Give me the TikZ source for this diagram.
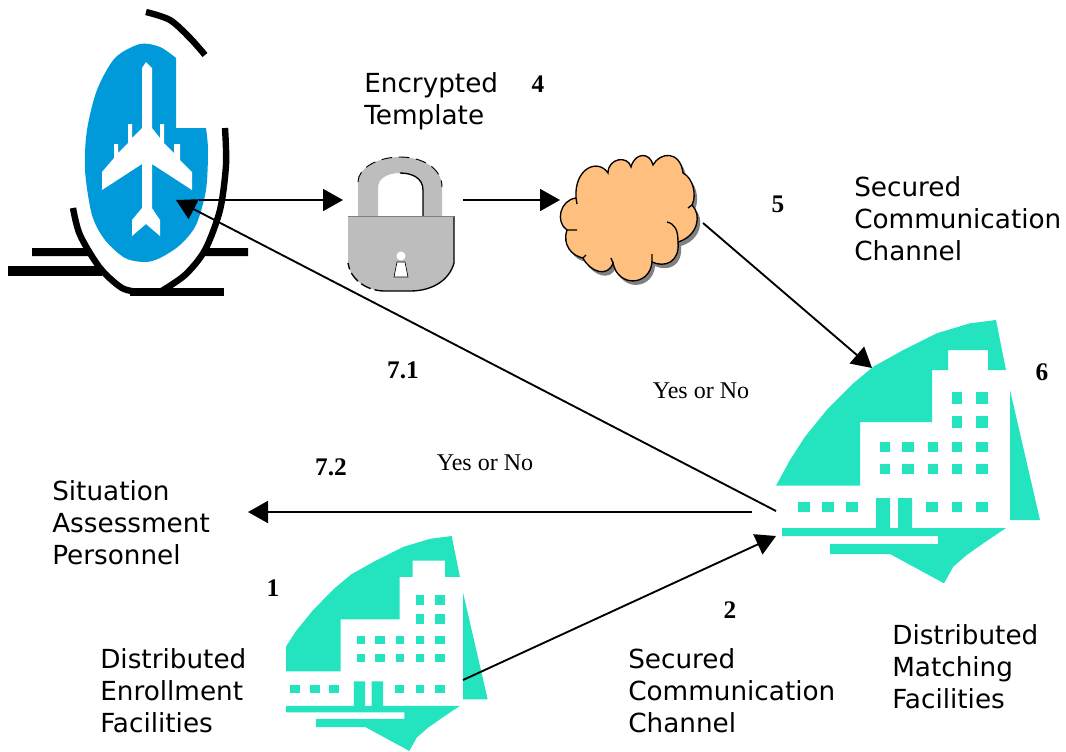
\documentclass[tikz,border=0pt]{standalone}
\usepackage{fontspec}
\setmainfont{Liberation Serif}
\newfontfamily\captionfont{DejaVu Sans}
\usetikzlibrary{arrows.meta}

\definecolor{planeblue}{HTML}{0099D9}
\definecolor{facilityteal}{HTML}{24E4C0}
\definecolor{cloudorange}{HTML}{FFBF7F}
\definecolor{lockgray}{HTML}{BDBDBD}
\definecolor{shadowgray}{HTML}{808080}

\tikzset{
  link/.style={-{Triangle[length=15pt,width=16.5pt]}, line width=1.4pt},
  caption/.style={font=\captionfont\fontsize{19.7}{24}\selectfont, align=left, anchor=north west, inner sep=0pt},
  number/.style={font=\fontsize{19}{20}\selectfont\bfseries, inner sep=0pt},
  answer/.style={font=\fontsize{18}{20}\selectfont, inner sep=0pt},
  sketch/.style={line width=4.8pt, line cap=butt}
}

% one facility icon, in the size of the large one
\newcommand{\facilityicon}{%
  \fill[facilityteal] (26,175.7) -- (40,150) -- (55,126.7) -- (76.7,100) -- (103.3,73.3) -- (123.3,56.7)
    -- (153.3,40) -- (186.7,23.3) -- (220,13.3) -- (246,10) -- (256,60) -- (238,60) -- (238,40) -- (198,40)
    -- (198,60) -- (182,60) -- (182,112) -- (110,112) -- (110,175.7) -- cycle;
  \fill[facilityteal] (260,80) -- (290,210) -- (260,210) -- cycle;
  \fill[facilityteal] (32,218) -- (126,218) -- (126,188) -- (140,188) -- (140,218) -- (148,218) -- (148,188)
    -- (162,188) -- (162,218) -- (256,218) -- (233.3,233.3) -- (216.7,245) -- (203.3,256.7) -- (194,273.3)
    -- (140,244) -- (80,244) -- (80,234) -- (188,234) -- (188,226) -- (32,226) -- cycle;
  \foreach \wx/\ww/\wy/\wh in {202/10/82/12, 226/12/82/12, 202/10/106/12, 226/12/106/12,
      130/10/132/10, 152/12/132/10, 178/10/132/10, 202/10/132/10, 226/12/132/10,
      130/10/154/10, 152/12/154/10, 178/10/154/10, 202/10/154/10, 226/12/154/10,
      48/12/192/10, 72/12/192/10, 96/12/192/10, 176/12/192/10, 202/10/192/10, 226/12/192/10}
    \fill[facilityteal] (\wx,\wy) rectangle +(\ww,\wh);
}

\newcommand{\cloudoutline}{%
  (576,198) .. controls (574,168) and (598,158) .. (608,173)
  .. controls (608,158) and (628,155) .. (631,167)
  .. controls (635,152) and (650,152) .. (653,165)
  .. controls (660,152) and (680,150) .. (683,173)
  .. controls (693,178) and (697,195) .. (692,205)
  .. controls (702,215) and (698,236) .. (678,242)
  .. controls (680,262) and (665,268) .. (652,262)
  .. controls (650,286) and (618,288) .. (613,263)
  .. controls (608,278) and (590,272) .. (583,258)
  .. controls (572,256) and (562,245) .. (567,230)
  .. controls (555,222) and (560,200) .. (576,198) -- cycle
}

\begin{document}
\begin{tikzpicture}[x=0.75pt, y=-0.75pt]
    \useasboundingbox (0,0) rectangle (1066,751);

    % Define connector ends
    \coordinate (planeTip) at (176,200);
    \coordinate (planeOut) at (199,200);
    \coordinate (lockIn) at (343,200);
    \coordinate (lockOut) at (463,200);
    \coordinate (cloudIn) at (560,200);
    \coordinate (cloudOut) at (703,223);
    \coordinate (matchIn) at (872,368);
    \coordinate (matchOut) at (752,512);
    \coordinate (matchBack) at (776,511);
    \coordinate (matchLow) at (776,536);
    \coordinate (staffIn) at (248,512);
    \coordinate (enrollOut) at (463,680);

    % Aircraft
    \fill[black] (32,248) rectangle (88,256) (204,248) rectangle (248,256);
    \fill[black] (8,266) rectangle (102,276);
    \fill[black] (130,288) rectangle (224,296);
    \draw[sketch] plot[smooth] coordinates {(146,12) (170,20) (190,38) (205,55)};
    \draw[sketch] plot[smooth] coordinates {(225,128) (226,165) (220,210) (205,250) (185,275) (160,292)};
    \draw[sketch] plot[smooth] coordinates {(73,208) (80,235) (100,268) (122,288) (140,292)};
    \fill[planeblue] (176,128) -- (206,128) -- plot[smooth] coordinates {(206,128) (208,150) (206,190)
      (196,225) (180,245) (160,258) (145,262) (125,258) (105,240) (92,215) (85,170)
      (87,130) (97,90) (115,58) (140,44) (160,47) (176,58)} -- cycle;
    \fill[white] (146,62) -- (152,68) -- (152,128) -- (160,138) -- (160,124) -- (164,124) -- (164,143)
      -- (174,153) -- (174,144) -- (180,144) -- (180,160) -- (192,172) -- (192,190) -- (152,164) -- (152,208)
      -- (160,220) -- (160,236) -- (146,224) -- (132,236) -- (132,220) -- (142,208) -- (142,164) -- (102,190)
      -- (102,172) -- (114,158) -- (114,144) -- (118,144) -- (118,153) -- (128,143) -- (128,124) -- (132,124)
      -- (132,138) -- (142,128) -- (142,68) -- cycle;

    % Padlock
    \fill[lockgray] (358,216) -- (358,182) .. controls (358,168) and (378,157) .. (400,157)
      .. controls (422,157) and (442,168) .. (442,187) -- (442,216) -- (423,216) -- (423,190)
      .. controls (423,178) and (412,173) .. (400,173) .. controls (388,173) and (378,178) .. (378,188)
      -- (378,216) -- cycle;
    \draw[line width=1pt] (423,216) -- (423,190) .. controls (423,178) and (412,173) .. (400,173);
    \draw[line width=0.7pt, dash pattern=on 8pt off 5pt] (358,182) .. controls (358,168) and (378,157) .. (400,157)
      .. controls (422,157) and (442,168) .. (442,187);
    \fill[lockgray] (348,216) -- (454,216) -- (454,263) .. controls (450,278) and (435,291) .. (410,291)
      -- (385,291) .. controls (365,291) and (350,278) .. (348,263) -- cycle;
    \draw[line width=1pt] (454,216) -- (454,263) .. controls (450,278) and (435,291) .. (410,291) -- (385,291);
    \draw[line width=1pt, dash pattern=on 8pt off 3pt] (385,291) .. controls (365,291) and (350,278) .. (348,263);
    \draw[shadowgray, line width=0.6pt] (348,216) -- (454,216);
    \fill[white, draw=black, line width=0.5pt] (397,262) -- (405,262) -- (408,277) -- (394,277) -- cycle;
    \fill[white] (401,256) circle (4.5);

    % Cloud
    \begin{scope}[shift={(3,4)}]
      \fill[shadowgray] \cloudoutline;
    \end{scope}
    \draw[fill=cloudorange, line width=1pt] \cloudoutline;
    \draw[line width=1pt] (576,198) -- (577,204) (567,230) -- (577,230) (678,242) .. controls (678,230) and (675,224) .. (667,222)
      (652,262) -- (652,254) (613,263) -- (611,258) (583,258) -- (586,255) (692,205) -- (688,208);

    % Facilities
    \begin{scope}[shift={(750,310)}]
      \facilityicon
    \end{scope}
    \begin{scope}
      \clip (286,520) rectangle (500,751);
      \begin{scope}[shift={(250.93,527.84)}, scale=0.8163]
        \facilityicon
      \end{scope}
    \end{scope}

    % Define labels
    \node[caption] (encrypted) at (364,72) {Encrypted\\Template};
    \node[caption] (channelTop) at (854,176) {Secured\\Communication\\Channel};
    \node[caption] (staff) at (52,480) {Situation\\Assessment\\Personnel};
    \node[caption] (enrollment) at (100,648) {Distributed\\Enrollment\\Facilities};
    \node[caption] (channelLow) at (628,648) {Secured\\Communication\\Channel};
    \node[caption] (matching) at (892,624) {Distributed\\Matching\\Facilities};
    \node[number] (n4) at (538,84) {4};
    \node[number] (n5) at (778,204) {5};
    \node[number] (n6) at (1042,372) {6};
    \node[number] (n71) at (403,370) {7.1};
    \node[number] (n72) at (331,467) {7.2};
    \node[number] (n1) at (273,588) {1};
    \node[number] (n2) at (730,610) {2};
    \node[answer] (yesTop) at (701,391) {Yes or No};
    \node[answer] (yesLow) at (485,463) {Yes or No};

    % Draw edges
    \draw[link] (planeOut) to (lockIn);
    \draw[link] (lockOut) to (cloudIn);
    \draw[link] (cloudOut) to (matchIn);
    \draw[link] (matchBack) to (planeTip);
    \draw[link] (matchOut) to (staffIn);
    \draw[link] (enrollOut) to (matchLow);
\end{tikzpicture}
\end{document}
